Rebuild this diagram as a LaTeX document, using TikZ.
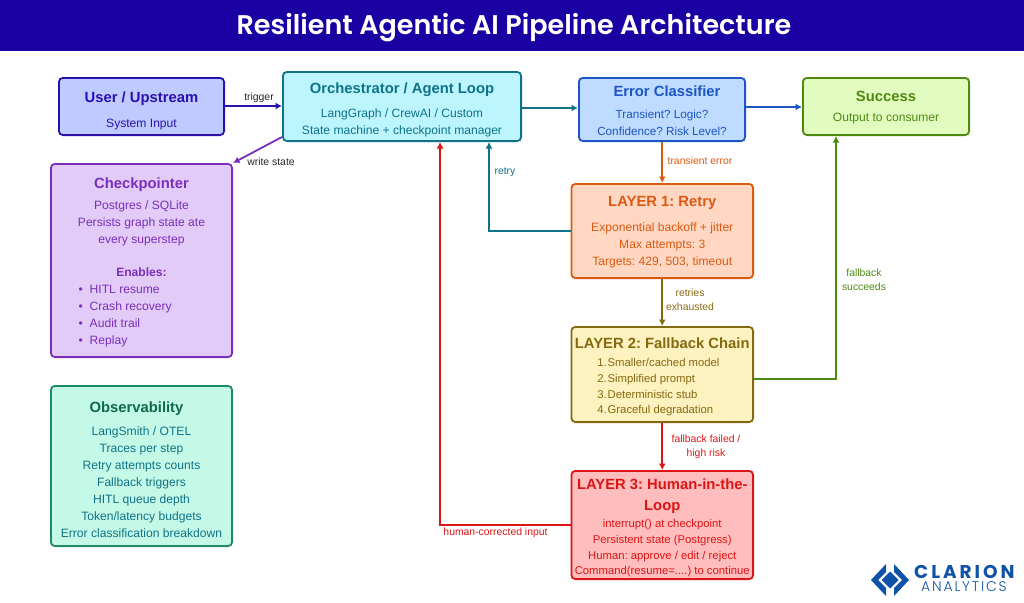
\documentclass[tikz,border=0pt]{standalone}
\usepackage{fontspec}
\setmainfont{Liberation Sans}
\newfontfamily\headfont{Poppins SemiBold}
\newfontfamily\logofont[LetterSpace=16]{Poppins}
\newfontfamily\logothin[LetterSpace=13]{Poppins Light}
\usetikzlibrary{arrows.meta}
\definecolor{userfill}{HTML}{BFCBFF}
\definecolor{userline}{HTML}{2A10AD}
\definecolor{orchfill}{HTML}{BDF5FF}
\definecolor{orchline}{HTML}{0E7387}
\definecolor{checkfill}{HTML}{E2CBF7}
\definecolor{checkline}{HTML}{7A2FBC}
\definecolor{obsfill}{HTML}{C5F9E7}
\definecolor{obsline}{HTML}{1F8A63}
\definecolor{obshead}{HTML}{0E6B47}
\definecolor{classfill}{HTML}{BFDBFF}
\definecolor{classline}{HTML}{1D55C4}
\definecolor{okfill}{HTML}{E2FCC0}
\definecolor{okline}{HTML}{4E8A10}
\definecolor{retryfill}{HTML}{FFD7C2}
\definecolor{retryline}{HTML}{DB5A12}
\definecolor{fallfill}{HTML}{FEF2C0}
\definecolor{fallline}{HTML}{85690F}
\definecolor{humanfill}{HTML}{FFBDBD}
\definecolor{humanline}{HTML}{DB1515}
\definecolor{bannerblue}{HTML}{1A00A3}
\definecolor{logoblue}{HTML}{0F52A8}
\newcommand{\boxhead}[2][0pt]{{\fontsize{14.8}{20}\selectfont\bfseries\rule{0pt}{\dimexpr 12.8pt+#1\relax}#2}}
\frenchspacing
\begin{document}
\begin{tikzpicture}
[x=1pt,y=-1pt,
stagebox/.style 2 args={draw=#2,fill=#1,text=#2,rounded corners=4pt,line width=1.8pt,align=center,inner sep=0pt,
    anchor=north west,font=\fontsize{12.1}{17}\selectfont},
layerfont/.style={font=\fontsize{11.3}{15.6}\selectfont},
link/.style={line width=1.8pt,-{Latex[length=6.5pt,width=7pt]}},
linktext/.style={font=\fontsize{10.4}{14.5}\selectfont,align=center,inner sep=0pt}
]
\useasboundingbox (0,0) rectangle (1024,602);
\fill[bannerblue] (0,0) rectangle (1024,51);
\node[text=white,inner sep=0pt,font=\headfont\fontsize{27}{30}\selectfont] (banner) at (514,28) {Resilient Agentic AI Pipeline Architecture};

% top row
\node[stagebox={userfill}{userline},minimum width=165.2pt,minimum height=57.2pt] (user) at (58,77)
    {\boxhead[6pt]{User / Upstream}\\[8pt] System Input};
\node[stagebox={orchfill}{orchline},minimum width=238.2pt,minimum height=69.2pt] (orch) at (282,71)
    {\boxhead[5pt]{Orchestrator / Agent Loop}\\[7pt] LangGraph / CrewAI / Custom\\ State machine + checkpoint manager};
\node[stagebox={classfill}{classline},font=\fontsize{11.7}{17}\selectfont,minimum width=166.2pt,minimum height=63.2pt] (classifier) at (578,77)
    {\hspace*{10pt}\boxhead{Error Classifier}\\[5pt] Transient? Logic?\\ Confidence? Risk Level?};
\node[stagebox={okfill}{okline},minimum width=166.2pt,minimum height=57.2pt] (success) at (802,77)
    {\boxhead{Success}\\[3pt] Output to consumer};

% left column
\node[stagebox={checkfill}{checkline},minimum width=181.2pt,minimum height=193.2pt] (checkpointer) at (50,163)
    {\boxhead[2pt]{Checkpointer}\\[4pt] Postgres / SQLite\\ Persists graph state ate\\ every superstep\\[16pt]
    \textbf{Enables:}\\
    \makebox[156pt][l]{\hspace{15pt}\textbullet\hspace{7pt}HITL resume}\\
    \makebox[156pt][l]{\hspace{15pt}\textbullet\hspace{7pt}Crash recovery}\\
    \makebox[156pt][l]{\hspace{15pt}\textbullet\hspace{7pt}Audit trail}\\
    \makebox[156pt][l]{\hspace{15pt}\textbullet\hspace{7pt}Replay}};
\node[stagebox={obsfill}{orchline},draw=obsline,minimum width=181.2pt,minimum height=160.2pt] (observability) at (50,385)
    {\hspace*{-10pt}\textcolor{obshead}{\boxhead[5pt]{Observability}}\\[6pt] LangSmith / OTEL\\ Traces per step\\ Retry attempts counts\\ Fallback triggers\\ HITL queue depth\\ Token/latency budgets\\ Error classification breakdown};

% the three layers
\node[stagebox={retryfill}{retryline},minimum width=181.7pt,minimum height=94.2pt] (layer1) at (570.5,183)
    {\boxhead{LAYER 1: Retry}\\[8pt] Exponential backoff + jitter\\ Max attempts: 3\\ Targets: 429, 503, timeout};
\node[stagebox={fallfill}{fallline},layerfont,minimum width=181.7pt,minimum height=95.2pt] (layer2) at (570.5,326)
    {\boxhead[3pt]{LAYER 2: Fallback Chain}\\[2.4pt]
    \makebox[140pt][l]{\hspace{5pt}1.\hspace{1pt}Smaller/cached model}\\
    \makebox[140pt][l]{\hspace{5pt}2.\hspace{1pt}Simplified prompt}\\
    \makebox[140pt][l]{\hspace{5pt}3.\hspace{1pt}Deterministic stub}\\
    \makebox[140pt][l]{\hspace{5pt}4.\hspace{1pt}Graceful degradation}};
\node[stagebox={humanfill}{humanline},layerfont,minimum width=181.7pt,minimum height=108.2pt] (layer3) at (570.5,470)
    {\boxhead[4pt]{LAYER 3: Human-in-the-}\\[5.4pt] \boxhead{Loop}\\[1.4pt] interrupt() at checkpoint\\ Persistent state (Postgress)\\ Human: approve / edit / reject\\ Command(resume=....) to continue};

% connectors
\coordinate (retrybend) at (489,231);
\coordinate (humanbend) at (440,525);
\coordinate (okbend) at (836,379);
\draw[link,userline] (user.east |- 0,106) -- (orch.west |- 0,106);
\draw[link,orchline] (orch.east |- 0,108) -- (classifier.west |- 0,108);
\draw[link,classline] (classifier.east |- 0,107) -- (success.west |- 0,107);
\draw[link,checkline] (orch.south west) ++(0,-5) -- (checkpointer.north east);
\draw[link,retryline] (classifier.south -| layer1.north) -- (layer1.north);
\draw[link,fallline] (layer1.south) -- (layer2.north);
\draw[link,humanline] (layer2.south) -- (layer3.north);
\draw[link,orchline] (layer1.west |- retrybend) -- (retrybend) -- (retrybend |- orch.south);
\draw[link,humanline] (layer3.west |- humanbend) -- (humanbend) -- (humanbend |- orch.south);
\draw[link,okline] (layer2.east |- okbend) -- (okbend) -- (okbend |- success.south);

% connector labels
\node[linktext,text=black!85] (triggertext) at (259,97.5) {trigger};
\node[linktext,text=black!85] (writetext) at (271,161.5) {write state};
\node[linktext,text=orchline] (retrytext) at (505,172) {retry};
\node[linktext,text=retryline] (transienttext) at (700,160.5) {transient error};
\node[linktext,text=fallline] (retriestext) at (690,300) {retries\\ exhausted};
\node[linktext,text=okline] (fallbacktext) at (864,280) {fallback\\ succeeds};
\node[linktext,text=humanline] (failedtext) at (706,447) {fallback failed /\\ high risk};
\node[linktext,text=humanline] (correctedtext) at (495.5,533) {human-corrected input};

% logo
\fill[logoblue] (886,564) -- (871,580) -- (886,596) -- (886,588) -- (878,580) -- (886,572) -- cycle;
\fill[logoblue] (894,564) -- (909,580) -- (894,596) -- (894,588) -- (902,580) -- (894,572) -- cycle;
\fill[logoblue] (890,571.5) -- (898.5,580) -- (890,588.5) -- (881.5,580) -- cycle;
\node[inner sep=0pt,text=logoblue,anchor=north west,align=left,font=\fontsize{14}{13}\selectfont] (logotext) at (914,565)
    {{\logofont\fontsize{18.5}{13}\selectfont\bfseries CLARION}\\ \hspace*{7pt}{\logothin ANALYTICS}};
\end{tikzpicture}
\end{document}
